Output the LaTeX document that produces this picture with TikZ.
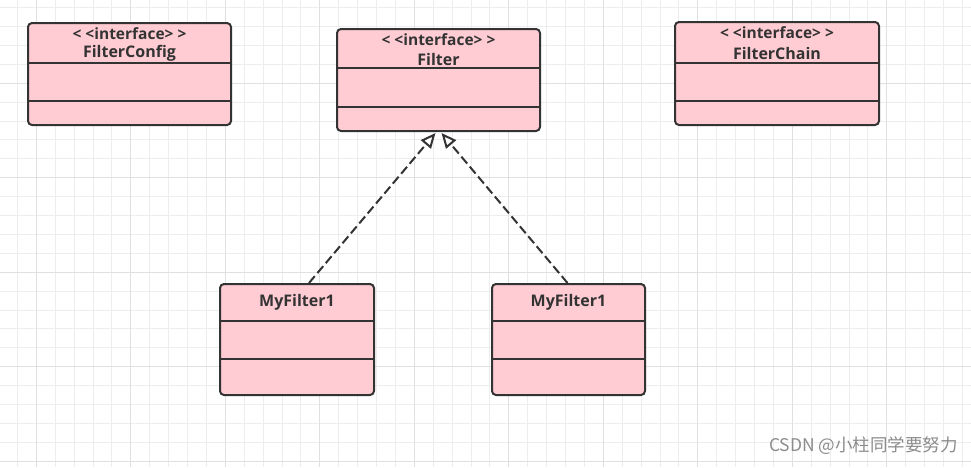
\documentclass[tikz,border=0pt]{standalone}
\usepackage{fontspec}
\setmainfont{Open Sans}
\newfontfamily\cjk{Noto Sans CJK SC}
\usetikzlibrary{arrows.meta}
\definecolor{boxfill}{HTML}{FFCCD3}
\definecolor{boxline}{HTML}{333333}
\definecolor{gridminor}{HTML}{EDEDED}
\definecolor{gridmajor}{HTML}{E0E0E0}
\newcommand{\stereotype}{{<}\kern4pt{<}interface{>}\kern4pt{>}}
\begin{document}
\begin{tikzpicture}[
			x=1pt, y=-1pt,
			umlbox/.style={draw=boxline, fill=boxfill, line width=2pt, rounded corners=4pt,
					inner sep=0pt, anchor=north west},
			divider/.style={draw=boxline, line width=2pt},
			stereo/.style={font=\bfseries\fontsize{15.5}{17}\selectfont, text=boxline, inner sep=0pt},
			classname/.style={font=\bfseries\fontsize{16}{18}\selectfont, text=boxline, inner sep=0pt},
			realize/.style={draw=boxline, line width=2pt, dash pattern=on 9pt off 4pt,
					-{Triangle[open, length=15pt, width=13pt, fill=white]}}
		]
		\useasboundingbox[fill=white] (0,0) rectangle (971,467);
		% background grid
		\foreach \gx in {0,...,51} {
				\draw[gridminor, line width=1pt] (17.4+18.9*\gx,0) -- (17.4+18.9*\gx,467);
			}
		\foreach \gy in {0,...,24} {
				\draw[gridminor, line width=1pt] (0,7.6+18.9*\gy) -- (971,7.6+18.9*\gy);
			}
		\foreach \gx in {0,...,10} {
				\draw[gridmajor, line width=1pt] (36.3+94.5*\gx,0) -- (36.3+94.5*\gx,467);
			}
		\foreach \gy in {0,...,4} {
				\draw[gridmajor, line width=1pt] (0,83.2+94.5*\gy) -- (971,83.2+94.5*\gy);
			}

		% interfaces
		\node[umlbox, minimum width=203pt, minimum height=102pt] (config) at (27,22) {};
		\node[stereo] at ([yshift=-11.5pt]config.north) {\stereotype};
		\node[classname] at ([yshift=-31pt]config.north) {FilterConfig};
		\draw[divider] ([yshift=-40.7pt]config.north west) -- ([yshift=-40.7pt]config.north east);
		\draw[divider] ([yshift=-78.7pt]config.north west) -- ([yshift=-78.7pt]config.north east);

		\node[umlbox, minimum width=203pt, minimum height=102pt] (filter) at (336,28) {};
		\node[stereo] at ([yshift=-12pt]filter.north) {\stereotype};
		\node[classname] at ([yshift=-31pt]filter.north) {Filter};
		\draw[divider] ([yshift=-40.3pt]filter.north west) -- ([yshift=-40.3pt]filter.north east);
		\draw[divider] ([yshift=-78.7pt]filter.north west) -- ([yshift=-78.7pt]filter.north east);

		\node[umlbox, minimum width=204pt, minimum height=103pt] (chain) at (674,21) {};
		\node[stereo] at ([yshift=-12pt]chain.north) {\stereotype};
		\node[classname] at ([yshift=-32pt]chain.north) {FilterChain};
		\draw[divider] ([yshift=-41.7pt]chain.north west) -- ([yshift=-41.7pt]chain.north east);
		\draw[divider] ([yshift=-79.7pt]chain.north west) -- ([yshift=-79.7pt]chain.north east);

		% implementations
		\node[umlbox, minimum width=154pt, minimum height=111pt] (impl1) at (219,283) {};
		\node[classname] at ([yshift=-19.5pt]impl1.north) {MyFilter1};
		\draw[divider] ([yshift=-38pt]impl1.north west) -- ([yshift=-38pt]impl1.north east);
		\draw[divider] ([yshift=-76pt]impl1.north west) -- ([yshift=-76pt]impl1.north east);

		\node[umlbox, minimum width=153pt, minimum height=111pt] (impl2) at (491,283) {};
		\node[classname] at ([yshift=-19.5pt]impl2.north) {MyFilter1};
		\draw[divider] ([yshift=-38pt]impl2.north west) -- ([yshift=-38pt]impl2.north east);
		\draw[divider] ([yshift=-76pt]impl2.north west) -- ([yshift=-76pt]impl2.north east);

		% realization
		\draw[realize] ([xshift=12pt]impl1.north) -- ([xshift=-3pt,yshift=-1pt]filter.south);
		\draw[realize] ([xshift=-1pt]impl2.north) -- ([xshift=3pt,yshift=-1pt]filter.south);

		% watermark
		\node[anchor=east, inner sep=0pt, text=black!45, font=\cjk\fontsize{17.5}{19}\selectfont] (mark) at (958,446) {CSDN @小柱同学要努力};
	\end{tikzpicture}
\end{document}
